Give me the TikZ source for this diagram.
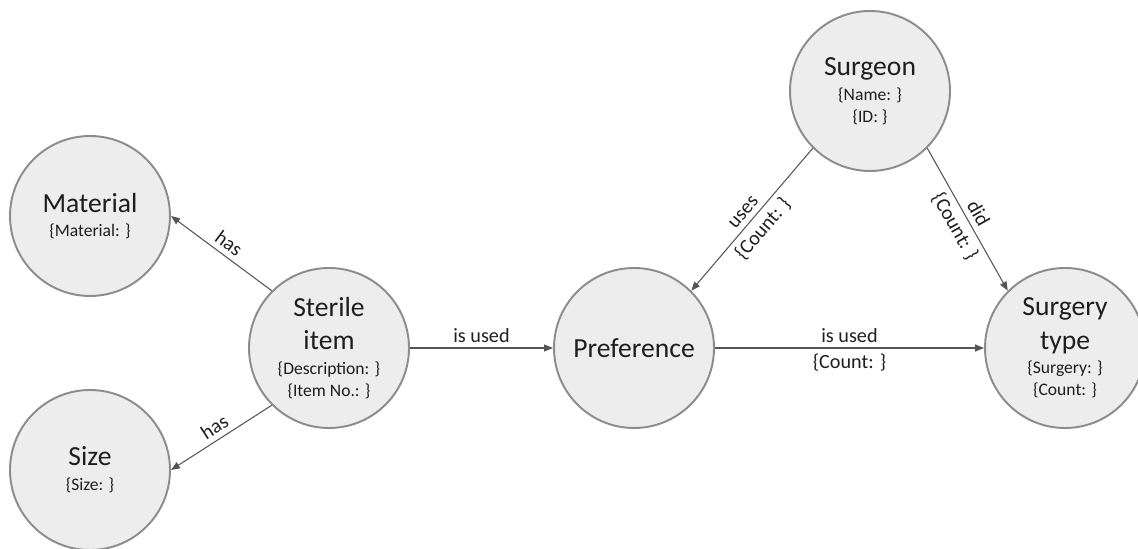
\documentclass[tikz,border=0pt]{standalone}
\usepackage{fontspec}
\setmainfont{Carlito}
\usetikzlibrary{arrows.meta}
\definecolor{NodeFill}{RGB}{236,237,236}
\definecolor{NodeBorder}{RGB}{140,140,140}
\definecolor{EdgeGray}{RGB}{85,85,85}
\definecolor{TextDark}{RGB}{30,30,30}
\newcommand{\entfont}{\fontsize{15.7}{19}\selectfont}
\newcommand{\attrfont}{\fontsize{10}{12.5}\selectfont}

\begin{document}
\begin{tikzpicture}[
    font=\fontsize{11.5}{14}\selectfont,
    text=TextDark,
    >={Triangle[length=1.8mm,width=1.4mm]},
    entity/.style={
        circle,
        draw=NodeBorder,
        line width=1.1pt,
        fill=NodeFill,
        minimum size=3.2cm,
        inner sep=0pt,
        align=center,
        font=\entfont
    },
    rel/.style={
        ->,
        draw=EdgeGray,
        line width=0.6pt
    },
    lbl/.style={
        midway,
        sloped,
        inner sep=3pt
    }
]
\useasboundingbox (0,0) rectangle (22.76,10.98);

\node[entity] (material) at (1.8,6.66) {Material\\[-5pt]\attrfont \{Material: \}};
\node[entity] (size) at (1.8,1.58) {Size\\[-5pt]\attrfont \{Size: \}};
\node[entity] (sterile) at (6.58,4.02) {Sterile\\item\\[-5pt]\attrfont \{Description: \}\\[-6.5pt]\attrfont \{Item No.: \}};
\node[entity] (pref) at (12.68,4.02) {Preference};
\node[entity] (surgeon) at (17.4,9.16) {Surgeon\\[-5pt]\attrfont \{Name: \}\\[-6.5pt]\attrfont \{ID: \}};
\node[entity] (surgery) at (21.3,4.02) {Surgery\\type\\[-5pt]\attrfont \{Surgery: \}\\[-6.5pt]\attrfont \{Count: \}};

\draw[rel] (sterile.135) -- (material.east) node[lbl, above] {has};
\draw[rel] (sterile.225) -- (size.east) node[lbl, above] {has};
\draw[rel] (sterile.east) -- (pref.west) node[lbl, above] {is used};
\draw[rel] (pref.east) -- (surgery.west)
    node[lbl, above] {is used}
    node[lbl, below] {\{Count: \}};
\draw[rel] (surgeon.225) -- (pref.45)
    node[lbl, above] {uses}
    node[lbl, below] {\{Count: \}};
\draw[rel] (surgeon.-45) -- (surgery.135)
    node[lbl, above] {did}
    node[lbl, below] {\{Count: \}};

\end{tikzpicture}
\end{document}
